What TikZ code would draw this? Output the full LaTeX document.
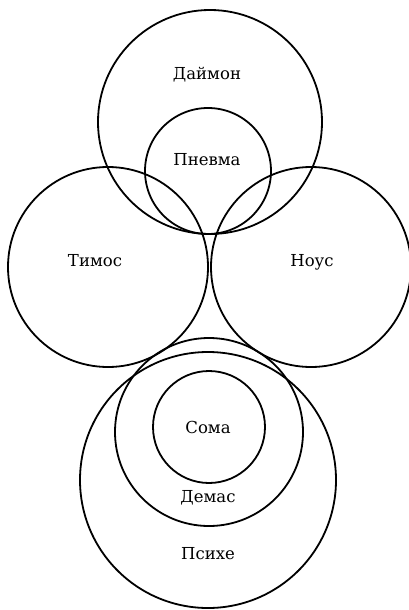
\documentclass[tikz,border=0pt]{standalone}
\usepackage{fontspec}
\setmainfont{DejaVu Serif}
\usetikzlibrary{positioning}

\begin{document}
\begin{tikzpicture}[
    x=1pt, y=-1pt,
    ring/.style={draw, circle, line width=1.8pt, inner sep=0pt},
    lbl/.style={font=\fontsize{16.5}{18}\selectfont, inner sep=1pt}
]
\useasboundingbox (0,0) rectangle (408,610);
% upper part
\node[ring, minimum size=224] (daimon) at (210,122) {};
\node[ring, minimum size=126] (pneuma) at (208,171) {};
\node[ring, minimum size=200] (thymos) at (108,267) {};
\node[ring, minimum size=200] (nous) at (311,267) {};
% lower part
\node[ring, minimum size=256] (psyche) at (208,480) {};
\node[ring, minimum size=188] (demas) at (209,432) {};
\node[ring, minimum size=112] (soma) at (209,427) {};

\node[lbl] (tdaimon) at (207,75) {Даймон};
\node[lbl] (tpneuma) at (207,160) {Пневма};
\node[lbl] (tthymos) at (95,261) {Тимос};
\node[lbl] (tnous) at (312,262) {Ноус};
\node[lbl] (tsoma) at (208,427) {Сома};
\node[lbl] (tdemas) at (208,498) {Демас};
\node[lbl] (tpsyche) at (208,554) {Психе};
\end{tikzpicture}
\end{document}
